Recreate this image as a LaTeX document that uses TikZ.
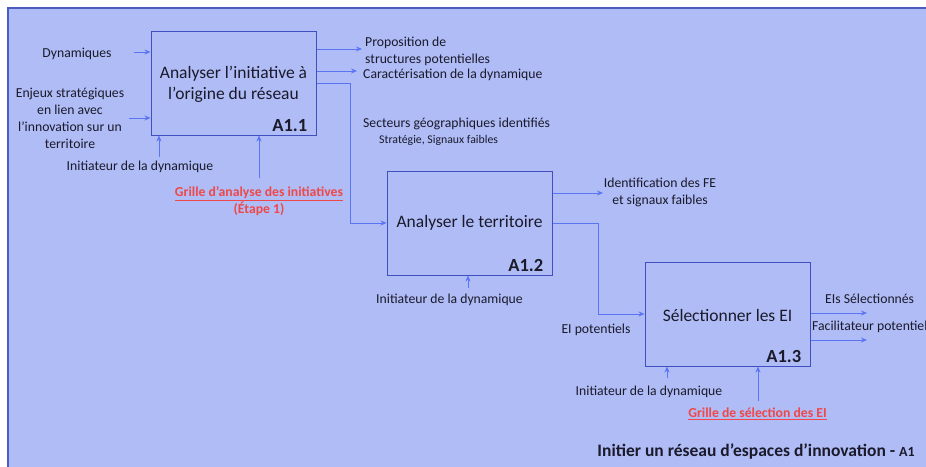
\documentclass[tikz,border=0pt]{standalone}
\usepackage{fontspec}
\setmainfont{Carlito}
\usetikzlibrary{arrows.meta}
\definecolor{bgc}{HTML}{B0BCF6}
\definecolor{frame}{HTML}{4A5CC0}
\definecolor{boxc}{HTML}{3F4FC0}
\definecolor{arc}{HTML}{5B74F4}
\definecolor{redc}{HTML}{EE4848}
\definecolor{txt}{HTML}{1A1A2A}
\tikzset{
  proc/.style={draw=boxc, line width=1pt, minimum width=165pt, minimum height=104pt, inner sep=0pt},
  ptitle/.style={font=\fontsize{17.5}{20.5}\selectfont, text=txt, align=center},
  pid/.style={font=\fontsize{18.5}{20}\bfseries\selectfont, text=txt, anchor=base east, inner sep=0pt},
  lbl/.style={font=\fontsize{13.7}{17}\selectfont, text=txt, inner sep=0pt},
  slbl/.style={font=\fontsize{11.8}{14}\selectfont, text=txt, inner sep=0pt},
  rlbl/.style={font=\fontsize{13.7}{17}\bfseries\selectfont, text=redc, inner sep=0pt, align=center},
  arr/.style={draw=arc, line width=0.8pt, -{Stealth[length=6pt,width=5pt]}}
}
\begin{document}
\begin{tikzpicture}[x=1pt,y=-1pt]
\useasboundingbox (0,0) rectangle (926,466);
\fill[bgc] (8,8) rectangle (940,480);
\draw[frame, line width=2pt] (8,480) -- (8,8) -- (940,8);
% boxes
\node[proc] (b1) at (233.5,83) {};
\node[proc] (b2) at (469.5,223) {};
\node[proc] (b3) at (727.5,314) {};
\node[ptitle] (t1) at (233.5,84.5) {Analyser l’initiative à\\l’origine du réseau};
\node[ptitle] (t2) at (469.5,223) {Analyser le territoire};
\node[ptitle] (t3) at (727.5,315) {Sélectionner les EI};
\node[pid] (i1) at ([xshift=-9pt,yshift=4pt]b1.south east) {A1.1};
\node[pid] (i2) at ([xshift=-9pt,yshift=4pt]b2.south east) {A1.2};
\node[pid] (i3) at ([xshift=-9pt,yshift=4pt]b3.south east) {A1.3};
% A1.1 inputs
\node[lbl] (dyn) at (77,54) {Dynamiques};
\node[lbl, align=center] (enj) at (70,118) {Enjeux stratégiques\\en lien avec\\l’innovation sur un\\territoire};
\coordinate (cdyn) at (134,52);
\coordinate (cenj) at (129,118);
\draw[arr] (cdyn) -- (b1.west |- cdyn);
\draw[arr] (cenj) -- (b1.west |- cenj);
\node[lbl] (ini1) at (140,167) {Initiateur de la dynamique};
\coordinate (cini1) at (159,157);
\draw[arr] (cini1) -- (cini1 |- b1.south);
\node[rlbl] (gr1) at (259,201) {\underline{Grille d’analyse des initiatives}\\(Étape 1)};
\coordinate (cgr1) at (259,178);
\draw[arr] (cgr1) -- (cgr1 |- b1.south);
% A1.1 outputs
\node[lbl, anchor=west, align=left] (prop) at (365,51) {Proposition de\\structures potentielles};
\node[lbl, anchor=west] (car) at (363,75) {Caractérisation de la dynamique};
\coordinate (cprop) at (362,49);
\coordinate (ccar) at (357,71);
\draw[arr] (b1.east |- cprop) -- (cprop);
\draw[arr] (b1.east |- ccar) -- (ccar);
\node[lbl, anchor=west] (sect) at (363,124) {Secteurs géographiques identifiés};
\node[slbl, anchor=west] (strat) at (379,140) {Stratégie, Signaux faibles};
\coordinate (c12) at (350,83);
\draw[arr] (b1.east |- c12) -- (c12) |- (b2.west);
% A1.2
\node[lbl, align=center] (idfe) at (660,192) {Identification des FE\\et signaux faibles};
\coordinate (cidfe) at (603,193);
\draw[arr] (b2.east |- cidfe) -- (cidfe);
\node[lbl] (ini2) at (449.5,300) {Initiateur de la dynamique};
\coordinate (cini2) at (468,288);
\draw[arr] (cini2) -- (cini2 |- b2.south);
\coordinate (c23) at (598,223);
\draw[arr] (b2.east |- c23) -- (c23) |- (b3.west);
\node[lbl] (eip) at (596,330) {EI potentiels};
% A1.3
\node[lbl, anchor=west] (eis) at (825,299) {EIs Sélectionnés};
\node[lbl, anchor=west] (fac) at (812,327) {Facilitateur potentiel};
\coordinate (ceis) at (867,313);
\coordinate (cfac) at (867,340);
\draw[arr] (b3.east |- ceis) -- (ceis);
\draw[arr] (b3.east |- cfac) -- (cfac);
\node[lbl] (ini3) at (649,392) {Initiateur de la dynamique};
\coordinate (cini3) at (667,378);
\draw[arr] (cini3) -- (cini3 |- b3.south);
\node[rlbl] (gr3) at (757.5,414) {\underline{Grille de sélection des EI}};
\coordinate (cgr3) at (758,401);
\draw[arr] (cgr3) -- (cgr3 |- b3.south);
% title
\node[font=\fontsize{17.5}{19}\bfseries\selectfont, text=txt, anchor=east, inner sep=0pt] (ttl) at (915,452) {Initier un réseau d’espaces d’innovation - {\fontsize{14}{16}\selectfont A1}};
\end{tikzpicture}
\end{document}
